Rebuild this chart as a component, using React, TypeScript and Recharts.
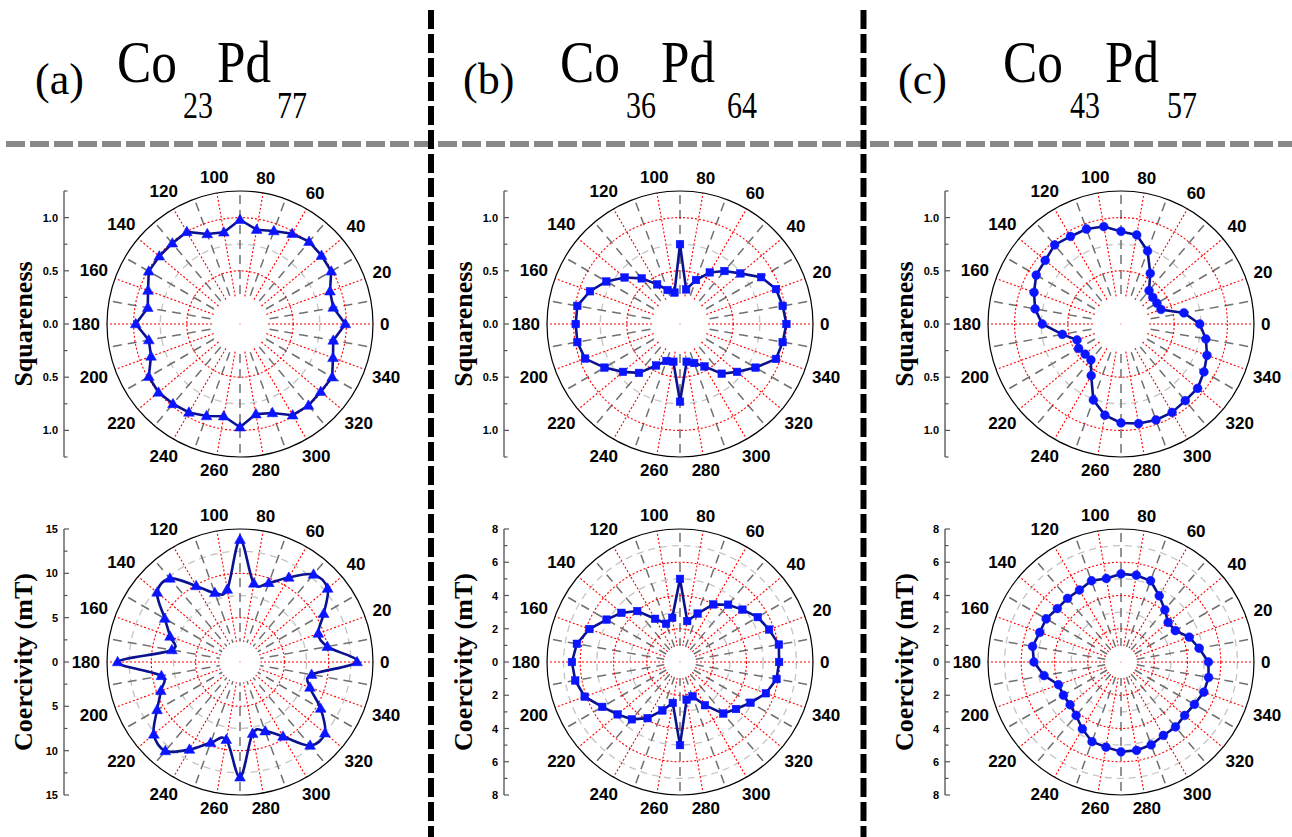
import React from 'react';
import { RadarChart, Radar, PolarGrid, PolarAngleAxis, PolarRadiusAxis, LineChart, YAxis } from 'recharts';

// ---------- data ----------
const angles = [0, 10, 20, 30, 40, 50, 60, 70, 80, 90, 100, 110, 120, 130, 140, 150, 160, 170, 180, 190, 200, 210, 220, 230, 240, 250, 260, 270, 280, 290, 300, 310, 320, 330, 340, 350];
const majorAngles = [0, 20, 40, 60, 80, 100, 120, 140, 160, 180, 200, 220, 240, 260, 280, 300, 320, 340];
const minorAngles = [10, 30, 50, 70, 90, 110, 130, 150, 170, 190, 210, 230, 250, 270, 290, 310, 330, 350];

// (a) Co23Pd77
const squarenessA = [0.99, 0.89, 0.90, 0.99, 1.0, 1.01, 0.98, 0.93, 0.90, 0.98, 0.875, 0.90, 1.0, 0.99, 0.99, 0.99, 0.92, 0.88, 0.98, 0.87, 0.89, 0.99, 1.0, 0.98, 0.96, 0.92, 0.88, 0.97, 0.86, 0.89, 0.99, 1.0, 0.99, 1.0, 0.93, 0.89];
const coercivityA = [13.2, 10.0, 9.4, 10.9, 12.9, 12.9, 11.0, 9.5, 9.0, 13.8, 8.3, 8.3, 9.9, 12.3, 12.2, 9.8, 8.4, 7.8, 13.8, 9.0, 9.5, 10.8, 12.7, 13.1, 11.4, 9.7, 8.9, 13.0, 8.2, 8.3, 9.7, 12.3, 12.5, 10.5, 8.4, 8.2];
// (b) Co36Pd64
const squarenessB = [1.0, 0.98, 0.96, 0.88, 0.74, 0.65, 0.56, 0.44, 0.33, 0.75, 0.30, 0.34, 0.43, 0.56, 0.68, 0.80, 0.90, 0.98, 0.98, 0.98, 0.95, 0.82, 0.70, 0.60, 0.45, 0.37, 0.36, 0.73, 0.36, 0.39, 0.46, 0.61, 0.70, 0.82, 0.96, 0.98];
const coercivityB = [5.96, 6.04, 5.7, 5.4, 4.9, 4.5, 4.0, 3.1, 2.5, 5.0, 2.7, 2.45, 3.0, 4.0, 4.6, 5.1, 5.8, 6.3, 6.5, 6.4, 6.1, 5.4, 4.9, 4.5, 3.9, 3.1, 2.5, 5.0, 2.3, 2.2, 3.0, 4.05, 4.4, 4.9, 5.5, 5.9];
// (c) Co43Pd57
const squarenessC = [0.74, 0.60, 0.40, 0.39, 0.39, 0.41, 0.55, 0.73, 0.85, 0.87, 0.93, 0.95, 0.95, 0.97, 0.93, 0.92, 0.87, 0.82, 0.74, 0.56, 0.44, 0.46, 0.44, 0.44, 0.56, 0.76, 0.87, 0.93, 0.95, 0.96, 0.96, 0.94, 0.94, 0.90, 0.86, 0.81];
const coercivityC = [5.26, 4.77, 4.37, 3.77, 3.7, 4.1, 4.6, 5.2, 5.3, 5.3, 5.1, 5.2, 5.0, 5.0, 5.0, 5.2, 5.2, 5.4, 5.24, 4.7, 4.0, 4.0, 4.0, 4.2, 4.65, 5.1, 5.2, 5.4, 5.4, 5.3, 5.1, 5.1, 5.0, 5.1, 5.3, 5.35];

// radial scales
const sqTicks = [-1.25, -1, -0.75, -0.5, -0.25, 0, 0.25, 0.5, 0.75, 1, 1.25];
const sqMajorTicks = [-1, -0.5, 0, 0.5, 1];
const sqMajorRings = [0.5, 1.0];
const sqMinorRings = [0.75];

const hcATicks = [-15, -12.5, -10, -7.5, -5, -2.5, 0, 2.5, 5, 7.5, 10, 12.5, 15];
const hcAMajorTicks = [-15, -10, -5, 0, 5, 10, 15];
const hcAMajorRings = [5, 10];
const hcAMinorRings = [7.5, 12.5];

const hcTicks = [-8, -7, -6, -5, -4, -3, -2, -1, 0, 1, 2, 3, 4, 5, 6, 7, 8];
const hcMajorTicks = [-8, -6, -4, -2, 0, 2, 4, 6, 8];
const hcMajorRings = [2, 4, 6];
const hcMinorRings = [3, 5, 7];

// ---------- layout / style ----------
const R = 133;
const W = 400;
const H = 350;
const AXIS_W = 60;
const PAD = 10;
const LINE = '#0a1290';
const MARK = '#0a14ff';
const TICK_FS = 17;
const SANS = '"Liberation Sans", Arial, sans-serif';
const SERIF = '"Liberation Serif", "Times New Roman", serif';

const fmtSq = (v: number) => Math.abs(v).toFixed(1);
const fmtInt = (v: number) => String(Math.abs(v));

function closedSpline(pts: { x: number; y: number }[]) {
  const n = pts.length;
  if (!n) return '';
  let d = `M${pts[0].x},${pts[0].y}`;
  for (let i = 0; i < n; i++) {
    const p0 = pts[(i - 1 + n) % n];
    const p1 = pts[i];
    const p2 = pts[(i + 1) % n];
    const p3 = pts[(i + 2) % n];
    const c1x = p1.x + (p2.x - p0.x) / 6;
    const c1y = p1.y + (p2.y - p0.y) / 6;
    const c2x = p2.x - (p3.x - p1.x) / 6;
    const c2y = p2.y - (p3.y - p1.y) / 6;
    d += ` C${c1x},${c1y} ${c2x},${c2y} ${p2.x},${p2.y}`;
  }
  return d + ' Z';
}

function makeMarker(kind: string) {
  return (p: any) => {
    const { cx, cy, index } = p;
    if (cx == null || cy == null) return <g key={`m-${index}`} />;
    if (kind === 'triangle') {
      const s = 5.4;
      return (
        <polygon key={`m-${index}`} points={`${cx},${cy - s * 1.05} ${cx - s},${cy + s * 0.7} ${cx + s},${cy + s * 0.7}`} fill={MARK} stroke={MARK} strokeWidth={0.5} />
      );
    }
    if (kind === 'square') {
      const s = 3.8;
      return <rect key={`m-${index}`} x={cx - s} y={cy - s} width={2 * s} height={2 * s} fill={MARK} stroke={MARK} strokeWidth={0.5} />;
    }
    return <circle key={`m-${index}`} cx={cx} cy={cy} r={4.4} fill={MARK} stroke={MARK} strokeWidth={0.5} />;
  };
}

function makeAngleTick(ccx: number, ccy: number) {
  return (p: any) => {
    const { x, y, payload, index } = p;
    const v = Number(payload?.value);
    if (!(majorAngles.indexOf(v) >= 0)) return <g key={`t-${index}`} />;
    const dx = x - ccx;
    const dy = y - ccy;
    const d = Math.hypot(dx, dy) || 1;
    const ux = dx / d;
    const uy = dy / d;
    const label = String(v);
    const hw = (label.length * TICK_FS * 0.556) / 2;
    const hh = TICK_FS * 0.37;
    const off = hw * Math.abs(ux) + hh * Math.abs(uy);
    return (
      <text key={`t-${index}`} x={x + ux * off} y={y + uy * off} textAnchor="middle" dominantBaseline="central" fontFamily={SANS} fontWeight="bold" fontSize={TICK_FS} fill="#000">
        {label}
      </text>
    );
  };
}

function makeYTick(majors: number[], fmt: (v: number) => string) {
  return (p: any) => {
    const { y, payload, index } = p;
    const v = Number(payload?.value);
    const isMajor = majors.some((m) => Math.abs(m - v) < 1e-9);
    return (
      <g key={`y-${index}`}>
        <line x1={AXIS_W} x2={AXIS_W + (isMajor ? 5 : 3.5)} y1={y} y2={y} stroke="#555" strokeWidth={1.2} />
        {isMajor && (
          <text x={AXIS_W - 6} y={y} textAnchor="end" dominantBaseline="central" fontFamily={SANS} fontWeight="bold" fontSize={11} fill="#000">
            {fmt(v)}
          </text>
        )}
      </g>
    );
  };
}

type PanelProps = {
  cx: number;
  cy: number;
  values: number[];
  max: number;
  radTickCount: number;
  holePx: number;
  majorRings: number[];
  minorRings: number[];
  axisTicks: number[];
  axisMajor: number[];
  fmt: (v: number) => string;
  marker: string;
  smooth?: boolean;
};

function Panel(props: PanelProps) {
  const { cx, cy, values, max, radTickCount, holePx, majorRings, minorRings, axisTicks, axisMajor, fmt, marker, smooth } = props;
  const data = angles.map((a, i) => ({ angle: a, value: values[i] }));
  const axisRows = axisTicks.map((v) => ({ v }));
  const toPx = (v: number) => (v / max) * R;
  const ccx = W / 2;
  const ccy = H / 2;
  return (
    <>
      <LineChart
        width={AXIS_W + 10}
        height={2 * R + 2 * PAD}
        margin={{ top: PAD, bottom: PAD, left: 0, right: 10 }}
        data={axisRows}
        style={{ position: 'absolute', left: cx - 176 - AXIS_W, top: cy - R - PAD, overflow: 'visible' }}
      >
        <YAxis
          type="number"
          dataKey="v"
          domain={[-max, max]}
          ticks={axisTicks}
          interval={0}
          width={AXIS_W}
          allowDataOverflow
          axisLine={{ stroke: '#666', strokeWidth: 1.5 }}
          tickLine={false}
          tick={makeYTick(axisMajor, fmt)}
        />
      </LineChart>
      <RadarChart
        width={W}
        height={H}
        cx={ccx}
        cy={ccy}
        outerRadius={R}
        innerRadius={0}
        startAngle={0}
        endAngle={360}
        data={data}
        margin={{ top: 0, right: 0, bottom: 0, left: 0 }}
        style={{ position: 'absolute', left: cx - ccx, top: cy - ccy, overflow: 'visible' }}
      >
        <PolarGrid gridType="circle" radialLines={false} polarAngles={[]} polarRadius={minorRings.map(toPx)} stroke="#c4c4c4" strokeWidth={1.3} strokeDasharray="7 5" />
        <PolarGrid gridType="circle" radialLines polarAngles={minorAngles} polarRadius={[]} stroke="#707070" strokeWidth={1.5} strokeDasharray="9 6" />
        <PolarGrid gridType="circle" radialLines polarAngles={majorAngles} polarRadius={majorRings.map(toPx)} stroke="#ff0000" strokeWidth={1.1} strokeDasharray="2 2" />
        {/* white centre hole of the polar grid */}
        <PolarGrid gridType="circle" radialLines={false} polarAngles={[]} polarRadius={[holePx / 2]} stroke="#ffffff" strokeWidth={holePx + 1} />
        <PolarAngleAxis
          dataKey="angle"
          type="number"
          domain={[0, 360]}
          allowDataOverflow
          ticks={majorAngles as any}
          tickCount={19}
          stroke="#000"
          axisLine={{ stroke: '#000', strokeWidth: 1.2 }}
          axisLineType="circle"
          tickLine={false}
          tickSize={7}
          tick={makeAngleTick(ccx, ccy)}
        />
        <PolarRadiusAxis type="number" domain={[0, max]} tickCount={radTickCount} allowDataOverflow tick={false} axisLine={false} />
        <Radar
          dataKey="value"
          stroke={LINE}
          strokeWidth={2.6}
          fill="none"
          fillOpacity={0}
          isAnimationActive={false}
          dot={makeMarker(marker)}
          shape={
            smooth
              ? (sp: any) => <path d={closedSpline(sp.points || [])} fill="none" stroke={LINE} strokeWidth={2.6} />
              : undefined
          }
        />
      </RadarChart>
    </>
  );
}

const CX = [240, 680, 1121];
const CY = [324, 662];

function Header({ x0, tag, a, b, sa, sb }: { x0: number[]; tag: string; a: string; b: string; sa: string; sb: string }) {
  return (
    <g fontFamily={SERIF} fill="#000">
      <text x={x0[0]} y={94} fontSize={44}>{tag}</text>
      <text x={x0[1]} y={82} fontSize={59} textLength={60} lengthAdjust="spacingAndGlyphs">{a}</text>
      <text x={x0[2]} y={118} fontSize={37} textLength={30} lengthAdjust="spacingAndGlyphs">{sa}</text>
      <text x={x0[3]} y={82} fontSize={59} textLength={54} lengthAdjust="spacingAndGlyphs">{b}</text>
      <text x={x0[4]} y={118} fontSize={37} textLength={30} lengthAdjust="spacingAndGlyphs">{sb}</text>
    </g>
  );
}

const titles = ['Squareness', 'Coercivity (mT)'];

export default function App() {
  return (
    <div style={{ position: 'absolute', left: 0, top: 0, width: 1292, height: 837, background: '#fff', overflow: 'hidden' }}>
      <svg width={1292} height={837} style={{ position: 'absolute', left: 0, top: 0 }}>
        <line x1={6} x2={1292} y1={144} y2={144} stroke="#888" strokeWidth={6} strokeDasharray="19 5" />
        <line x1={431} x2={431} y1={10} y2={837} stroke="#000" strokeWidth={6} strokeDasharray="19 5" />
        <line x1={863.5} x2={863.5} y1={10} y2={837} stroke="#000" strokeWidth={6} strokeDasharray="19 5" />
        <Header x0={[35, 117, 183, 217, 277]} tag="(a)" a="Co" b="Pd" sa="23" sb="77" />
        <Header x0={[463, 560, 626, 661, 727]} tag="(b)" a="Co" b="Pd" sa="36" sb="64" />
        <Header x0={[898, 1003, 1070, 1105, 1167]} tag="(c)" a="Co" b="Pd" sa="43" sb="57" />
        {CX.map((cx) =>
          CY.map((cy, r) => (
            <text
              key={`${cx}-${cy}`}
              x={cx - 217}
              y={cy}
              transform={`rotate(-90 ${cx - 217} ${cy})`}
              textAnchor="middle"
              dominantBaseline="central"
              fontFamily={SERIF}
              fontWeight="bold"
              fontSize={26}
              fill="#000"
            >
              {titles[r]}
            </text>
          ))
        )}
      </svg>
      <Panel cx={CX[0]} cy={CY[0]} values={squarenessA} max={1.25} radTickCount={6} holePx={26.6} majorRings={sqMajorRings} minorRings={sqMinorRings} axisTicks={sqTicks} axisMajor={sqMajorTicks} fmt={fmtSq} marker="triangle" />
      <Panel cx={CX[0]} cy={CY[1]} values={coercivityA} max={15} radTickCount={4} holePx={20} majorRings={hcAMajorRings} minorRings={hcAMinorRings} axisTicks={hcATicks} axisMajor={hcAMajorTicks} fmt={fmtInt} marker="triangle" smooth />
      <Panel cx={CX[1]} cy={CY[0]} values={squarenessB} max={1.25} radTickCount={6} holePx={26.6} majorRings={sqMajorRings} minorRings={sqMinorRings} axisTicks={sqTicks} axisMajor={sqMajorTicks} fmt={fmtSq} marker="square" />
      <Panel cx={CX[1]} cy={CY[1]} values={coercivityB} max={8} radTickCount={5} holePx={15.5} majorRings={hcMajorRings} minorRings={hcMinorRings} axisTicks={hcTicks} axisMajor={hcMajorTicks} fmt={fmtInt} marker="square" />
      <Panel cx={CX[2]} cy={CY[0]} values={squarenessC} max={1.25} radTickCount={6} holePx={26.6} majorRings={sqMajorRings} minorRings={sqMinorRings} axisTicks={sqTicks} axisMajor={sqMajorTicks} fmt={fmtSq} marker="circle" />
      <Panel cx={CX[2]} cy={CY[1]} values={coercivityC} max={8} radTickCount={5} holePx={15.5} majorRings={hcMajorRings} minorRings={hcMinorRings} axisTicks={hcTicks} axisMajor={hcMajorTicks} fmt={fmtInt} marker="circle" />
    </div>
  );
}
